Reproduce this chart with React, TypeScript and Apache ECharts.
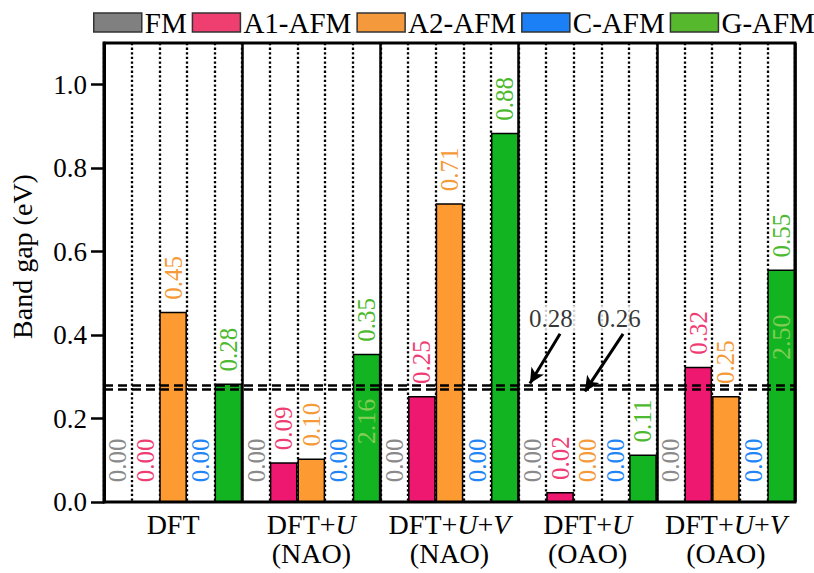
import React, { useEffect, useRef } from 'react';
import * as echarts from 'echarts';

const groups = ['DFT', 'DFT+U\n(NAO)', 'DFT+U+V\n(NAO)', 'DFT+U\n(OAO)', 'DFT+U+V\n(OAO)'];
const phases = ['FM', 'A1-AFM', 'A2-AFM', 'C-AFM', 'G-AFM'];

const fmGap = [0, 0, 0, 0, 0];
const a1Gap = [0, 0.095, 0.254, 0.024, 0.324];
const a2Gap = [0.456, 0.104, 0.716, 0, 0.254];
const cGap = [0, 0, 0, 0, 0];
const gGap = [0.284, 0.355, 0.885, 0.114, 0.557];

const fmText = ['0.00', '0.00', '0.00', '0.00', '0.00'];
const a1Text = ['0.00', '0.09', '0.25', '0.02', '0.32'];
const a2Text = ['0.45', '0.10', '0.71', '0.00', '0.25'];
const cText = ['0.00', '0.00', '0.00', '0.00', '0.00'];
const gText = ['0.28', '0.35', '0.88', '0.11', '0.55'];
const gInnerText = ['', '2.16', '', '', '2.50'];

const refLines = [0.284, 0.265];
const refText = ['0.28', '0.26'];
const refTextPos = [[16.17, 0.439], [18.63, 0.439]];
const arrowFrom = [[16.5, 0.403], [18.78, 0.403]];
const arrowTo = [[15.41, 0.284], [17.4, 0.265]];

const yTicks = [0, 0.2, 0.4, 0.6, 0.8, 1.0];

const barColors = ['#808080', '#ee1871', '#fd9a32', '#1a7ff5', '#12b521'];
const legendColors = ['#808080', '#ef3f70', '#f49a3d', '#1b80f5', '#56b92d'];
const labelColors = ['#8a8a8a', '#ef3d74', '#f59a38', '#2185f5', '#4cb92f'];

const FONT = 'Liberation Serif, Times New Roman, serif';

export default function App() {
  const ref = useRef<HTMLDivElement>(null);
  useEffect(() => {
    document.body.style.margin = '0';
    if (!ref.current) return;
    const chart = echarts.init(ref.current, null, { renderer: 'svg' });

    const slots: string[] = [];
    groups.forEach((g) => phases.forEach((p) => slots.push(g + '|' + p)));

    const values = [fmGap, a1Gap, a2Gap, cGap, gGap];
    const texts = [fmText, a1Text, a2Text, cText, gText];

    const barSeries: any[] = phases.map((p, pi) => {
      const data: any[] = [];
      for (let gi = 0; gi < groups.length; gi++) {
        for (let k = 0; k < phases.length; k++) {
          if (k === pi) {
            const v = values[pi][gi];
            data.push({
              value: v,
              label: { formatter: texts[pi][gi], distance: v === 0 ? 19 : 12 },
            });
          } else {
            data.push('-');
          }
        }
      }
      const s: any = {
        name: p,
        type: 'bar',
        xAxisIndex: 0,
        yAxisIndex: 0,
        barGap: '-100%',
        barCategoryGap: '0%',
        data,
        itemStyle: { color: barColors[pi], borderColor: '#000', borderWidth: 1.5 },
        label: {
          show: true,
          position: 'top',
          rotate: 90,
          align: 'left',
          verticalAlign: 'middle',
          fontSize: 25,
          fontFamily: FONT,
          color: labelColors[pi],
        },
        z: 3,
      };
      if (pi === 0) {
        s.markLine = {
          silent: true,
          symbol: 'none',
          label: { show: false },
          lineStyle: { color: '#000', width: 2.5, type: [9, 5] },
          data: refLines.map((v) => ({ yAxis: v })),
          z: 6,
        };
      }
      return s;
    });

    const innerData: any[] = [];
    for (let gi = 0; gi < groups.length; gi++) {
      for (let k = 0; k < phases.length; k++) {
        if (k === 4 && gInnerText[gi]) {
          innerData.push({ value: gGap[gi], label: { formatter: gInnerText[gi] } });
        } else {
          innerData.push('-');
        }
      }
    }
    barSeries.push({
      name: 'G-AFM-inner',
      type: 'bar',
      xAxisIndex: 0,
      yAxisIndex: 0,
      barGap: '-100%',
      barCategoryGap: '0%',
      data: innerData,
      itemStyle: { color: 'rgba(0,0,0,0)', borderWidth: 0 },
      label: {
        show: true,
        position: 'insideTop',
        distance: 45,
        rotate: 90,
        align: 'right',
        verticalAlign: 'middle',
        fontSize: 26,
        fontFamily: FONT,
        color: '#82cc55',
      },
      z: 4,
    });

    const annotSeries = {
      name: 'annot',
      type: 'scatter',
      xAxisIndex: 2,
      yAxisIndex: 0,
      symbolSize: 1,
      itemStyle: { color: 'rgba(0,0,0,0)' },
      data: refText.map((t, i) => ({ name: t, value: refTextPos[i] })),
      label: {
        show: true,
        position: 'inside',
        formatter: '{b}',
        fontSize: 25,
        fontFamily: FONT,
        color: '#000',
        backgroundColor: '#fff',
        padding: [1, 3],
      },
      markLine: {
        silent: true,
        symbol: ['none', 'arrow'],
        symbolSize: [11, 15],
        lineStyle: { color: '#000', width: 3, type: 'solid' },
        label: { show: false },
        data: arrowFrom.map((f, i) => [{ coord: f }, { coord: arrowTo[i] }]),
      },
      z: 10,
    };

    const option: any = {
      animation: false,
      backgroundColor: '#fff',
      textStyle: { fontFamily: FONT },
      legend: {
        data: phases.map((p, i) => ({
          name: p,
          itemStyle: { color: legendColors[i], borderColor: '#333', borderWidth: 1.5 },
        })),
        left: 88,
        top: 3,
        width: 740,
        icon: 'rect',
        itemWidth: 48,
        itemHeight: 19,
        itemGap: 5,
        textStyle: { fontSize: 29, fontFamily: FONT, color: '#000', padding: [0, 0, 0, -2] },
      },
      grid: {
        left: 104,
        right: 19,
        top: 43,
        bottom: 71,
        show: true,
        borderColor: '#000',
        borderWidth: 3,
        backgroundColor: 'transparent',
      },
      xAxis: [
        {
          type: 'category',
          data: slots,
          position: 'bottom',
          axisLine: { show: false },
          axisTick: { show: false },
          axisLabel: { show: false, interval: 0 },
          splitLine: {
            show: true,
            interval: 0,
            lineStyle: { color: '#000', width: 2.3, type: [2.3, 2.3] },
          },
        },
        {
          type: 'category',
          data: groups,
          position: 'bottom',
          axisLine: { show: false },
          axisTick: { show: false },
          axisLabel: {
            interval: 0,
            margin: 8,
            fontSize: 28,
            fontFamily: FONT,
            color: '#000',
            lineHeight: 29,
            formatter: (v: string) => v.replace(/([UV])/g, '{i|$1}'),
            rich: {
              i: { fontStyle: 'italic', fontSize: 28, fontFamily: FONT, color: '#000', lineHeight: 29 },
            },
          },
          splitLine: {
            show: true,
            interval: 0,
            lineStyle: { color: '#000', width: 2.5, type: 'solid' },
          },
        },
        {
          type: 'value',
          min: 0,
          max: 25,
          show: false,
        },
      ],
      yAxis: {
        type: 'value',
        min: 0,
        max: 1.1,
        interval: 0.2,
        name: 'Band gap (eV)',
        nameLocation: 'middle',
        nameGap: 68,
        nameTextStyle: { fontSize: 28, fontFamily: FONT, color: '#000', padding: [0, 0, 0, 32] },
        axisLine: { show: true, lineStyle: { color: '#000', width: 3 } },
        axisTick: {
          show: true,
          inside: false,
          length: 13,
          lineStyle: { color: '#000', width: 2.5 },
          customValues: yTicks,
        },
        axisLabel: {
          fontSize: 27,
          fontFamily: FONT,
          color: '#000',
          margin: 17,
          customValues: yTicks,
          formatter: (v: number) => v.toFixed(1),
        },
        splitLine: { show: false },
      },
      series: [...barSeries, annotSeries],
    };

    chart.setOption(option);
    return () => chart.dispose();
  }, []);

  return <div ref={ref} style={{ width: 814, height: 573 }} />;
}
